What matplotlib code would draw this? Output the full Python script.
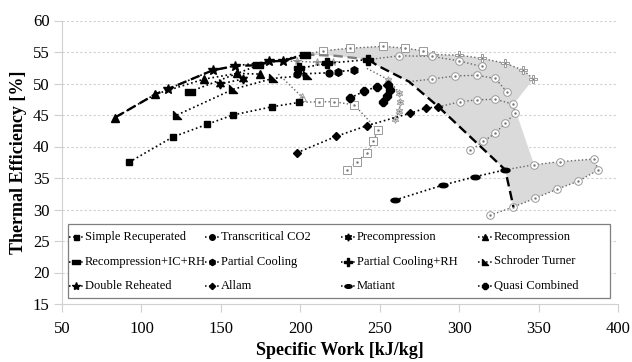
import matplotlib
matplotlib.use("Agg")
import matplotlib.pyplot as plt
import numpy as np
from matplotlib.lines import Line2D
from matplotlib.path import Path
from matplotlib.patches import Rectangle

plt.rcParams['font.family'] = ['Liberation Serif', 'DejaVu Serif']

# configurations: filled markers
simple_x = [92.2, 119.7, 141.1, 157.5, 182.2, 199.2]
simple_y = [37.5, 41.5, 43.5, 45.0, 46.3, 47.0]
transcrit_x = [197.8, 218.2]
transcrit_y = [51.5, 51.7]
precomp_x = [149.2, 163.8]
precomp_y = [49.9, 50.7]
recomp_x = [83.4, 108.8, 139.5, 160.0, 174.4]
recomp_y = [44.6, 48.3, 50.7, 51.6, 51.5]
rcic_x = [130.6, 173.6, 203.0]
rcic_y = [48.7, 52.9, 54.6]
pc_x = [224.0, 233.5]
pc_y = [51.9, 52.1]
pcrh_x = [199.4, 216.7, 242.9]
pcrh_y = [52.4, 53.2, 53.8]
st_x = [122.4, 157.9, 182.7, 204.5]
st_y = [45.0, 49.1, 50.8, 51.3]
dr_x = [116.5, 144.9, 159.2, 180.6, 189.4]
dr_y = [49.1, 52.1, 52.8, 53.5, 53.6]
allam_x = [197.8, 222.5, 241.9, 269.3, 279.2, 287.0]
allam_y = [39.0, 41.6, 43.3, 45.3, 46.1, 46.3]
matiant_x = [259.7, 290.1, 310.1, 329.0]
matiant_y = [31.5, 33.9, 35.2, 36.3]
quasi_x = [231.4, 240.4, 248.2, 255.5, 256.5, 254.4, 251.8]
quasi_y = [47.7, 48.8, 49.5, 49.8, 49.0, 48.0, 47.1]

# open markers (second fluid)
h_simple_x = [199.2, 212.0, 221.5, 234.0, 248.8, 246.0, 241.9, 236.0, 229.3]
h_simple_y = [47.0, 47.1, 47.1, 46.6, 42.6, 40.8, 39.0, 37.6, 36.3]
h_rcic_x = [203.0, 214.5, 231.2, 252.3, 266.0, 277.5]
h_rcic_y = [54.6, 55.2, 55.6, 55.9, 55.6, 55.2]
h_pcrh_x = [277.5, 283.8, 299.6, 314.3, 329.0, 340.5, 346.8]
h_pcrh_y = [55.2, 54.6, 54.5, 54.0, 53.2, 52.1, 50.7]
h_tc_x = [243.0, 262.4, 283.0, 299.6, 314.3]
h_tc_y = [53.8, 54.4, 54.3, 53.6, 52.7]
h_pc_x = [268.4, 282.8, 297.5, 311.1, 322.7, 330.0]
h_pc_y = [50.3, 50.7, 51.2, 51.3, 50.8, 48.7]
h_allam_x = [287.0, 300.6, 311.1, 322.7, 334.2, 335.3, 329.0, 322.7, 315.3, 307.0]
h_allam_y = [46.3, 47.1, 47.4, 47.5, 46.7, 45.3, 43.7, 42.1, 40.8, 39.4]
h_matiant_x = [329.0, 347.2, 363.6, 384.6, 387.7, 375.0, 361.4, 347.9, 334.2, 319.5]
h_matiant_y = [36.3, 37.1, 37.6, 38.0, 36.3, 34.5, 33.2, 31.8, 30.4, 29.1]
h_quasi_x = [241.9, 255.5, 262.4, 262.8, 262.4, 259.7]
h_quasi_y = [52.4, 50.6, 48.5, 47.1, 45.7, 44.3]
h_dr_x = [189.4, 197.8, 210.4, 220.9]
h_dr_y = [53.6, 53.5, 53.4, 53.4]
h_st_x = [186.2, 201.0]
h_st_y = [51.5, 47.9]

# best-efficiency front
front_x = [83.4, 108.8, 116.5, 144.9, 159.2, 173.6, 180.6, 189.4, 203.0,
           222.0, 243.0, 248.2, 268.4, 287.0, 329.0, 334.2]
front_y = [44.6, 48.3, 49.1, 52.1, 52.8, 52.9, 53.5, 53.6, 54.6,
           54.4, 53.8, 52.9, 50.3, 46.3, 36.3, 30.4]

labels = ['Simple Recuperated', 'Transcritical CO2', 'Precompression', 'Recompression',
          'Recompression+IC+RH', 'Partial Cooling', 'Partial Cooling+RH', 'Schroder Turner',
          'Double Reheated', 'Allam', 'Matiant', 'Quasi Combined']

# custom markers
half_tri = Path([(-1, 1), (-1, -1), (1, -1), (-1, 1)], closed=True)
circ = Path.unit_circle()
ellipse = Path(circ.vertices * np.array([1.0, 0.5]), circ.codes)
wide_sq = Path([(-1, -0.6), (1, -0.6), (1, 0.6), (-1, 0.6), (-1, -0.6)], closed=True)
star6 = (6, 1, 0)

markers = ['s', 'o', star6, '^', wide_sq, 'h', 'P', half_tri, '*', 'D', ellipse, '8']
sizes = [4.5, 5, 6.5, 5.5, 7, 5.5, 6.5, 5.5, 7.5, 4, 6.5, 5.5]
filled = [(simple_x, simple_y), (transcrit_x, transcrit_y), (precomp_x, precomp_y),
          (recomp_x, recomp_y), (rcic_x, rcic_y), (pc_x, pc_y), (pcrh_x, pcrh_y),
          (st_x, st_y), (dr_x, dr_y), (allam_x, allam_y), (matiant_x, matiant_y),
          (quasi_x, quasi_y)]
hollow = [(h_simple_x, h_simple_y, 's'), (h_rcic_x, h_rcic_y, 's'),
          (h_pcrh_x, h_pcrh_y, 'P'), (h_tc_x, h_tc_y, 'o'), (h_pc_x, h_pc_y, 'o'),
          (h_allam_x, h_allam_y, 'o'), (h_matiant_x, h_matiant_y, 'o'),
          (h_quasi_x, h_quasi_y, star6), (h_dr_x, h_dr_y, '*'), (h_st_x, h_st_y, '^')]

fig = plt.figure(figsize=(6.32, 3.62), dpi=100)
ax = fig.add_axes([62 / 632, 1 - 304 / 362, 556 / 632, 283.5 / 362])

# shaded area between the front and the outer open-marker curves
poly_x = h_rcic_x + h_pcrh_x[1:] + [h_allam_x[4]] + h_matiant_x[1:-1] + front_x[::-1][1:8]
poly_y = h_rcic_y + h_pcrh_y[1:] + [h_allam_y[4]] + h_matiant_y[1:-1] + front_y[::-1][1:8]
ax.fill(poly_x, poly_y, color='#dadada', lw=0, zorder=1)

gray = '#9a9a9a'
for hx, hy, mk in hollow:
    ax.plot(hx, hy, ls=':', color='#666666', lw=1.0, zorder=2)
    ax.plot(hx[1:], hy[1:], ls='none', marker=mk, ms=5.5, mfc='white', mec=gray,
            mew=0.7, zorder=3)
    ax.plot(hx[1:], hy[1:], ls='none', marker='.', ms=1.5, color='#777777', zorder=3)

ax.plot(front_x[:9], front_y[:9], ls=(0, (4, 2)), color='black', lw=1.7, zorder=4)
ax.plot(front_x[8:11], front_y[8:11], ls=(0, (4, 2)), color='#7f7f7f', lw=1.7, zorder=4)
ax.plot(front_x[10:], front_y[10:], ls=(0, (4, 2)), color='black', lw=1.7, zorder=4)

for (fx, fy), mk, s in zip(filled, markers, sizes):
    ax.plot(fx, fy, ls=':', color='black', lw=1.2, marker=mk, ms=s, mfc='black',
            mec='black', zorder=5)

ax.set_xlim(50, 400)
ax.set_ylim(15, 60)
ax.set_xticks(np.arange(50, 401, 50))
ax.set_yticks(np.arange(15, 61, 5))
ax.yaxis.grid(True, ls=(0, (2, 2)), color='#d0d0d0', lw=0.8)
ax.set_axisbelow(True)
for side in ['top', 'right']:
    ax.spines[side].set_visible(False)
for side in ['left', 'bottom']:
    ax.spines[side].set_color('#d0d0d0')
ax.tick_params(axis='both', colors='#d0d0d0', labelcolor='black', labelsize=12, length=6)
ax.tick_params(axis='x', pad=6)
ax.tick_params(axis='y', pad=3)
ax.set_xlabel('Specific Work [kJ/kg]', fontsize=13, fontweight='bold', labelpad=4)
ax.set_ylabel('Thermal Efficiency [%]', fontsize=13, fontweight='bold', labelpad=4)

# legend box drawn by hand: 3 rows x 4 equal columns
def px2ax(px, py):
    return (px - 62) / 556, (304 - py) / 283.5

x0, y0 = px2ax(68, 298)
x1, y1 = px2ax(610, 224)
ax.add_patch(Rectangle((x0, y0), x1 - x0, y1 - y0, transform=ax.transAxes,
                       facecolor='white', edgecolor='#7f7f7f', lw=0.9, zorder=6))
col_px = [76, 212, 348, 485]
row_px = [237, 261.5, 286]
for i, lab in enumerate(labels):
    cx, cy = col_px[i % 4], row_px[i // 4]
    hx0, hy = px2ax(cx - 7, cy)
    hx1, _ = px2ax(cx + 7, cy)
    hm, _ = px2ax(cx, cy)
    ax.add_line(Line2D([hx0, hx1], [hy, hy], transform=ax.transAxes, ls=':', color='black',
                       lw=1.1, zorder=7))
    ax.add_line(Line2D([hm], [hy], transform=ax.transAxes, ls='none', marker=markers[i],
                       ms=sizes[i] * 0.8, color='black', zorder=7))
    tx, _ = px2ax(cx + 9, cy)
    ax.text(tx, hy, lab, transform=ax.transAxes, va='center', ha='left', fontsize=9.0,
            zorder=8)

fig.savefig('out.png', dpi=100)
